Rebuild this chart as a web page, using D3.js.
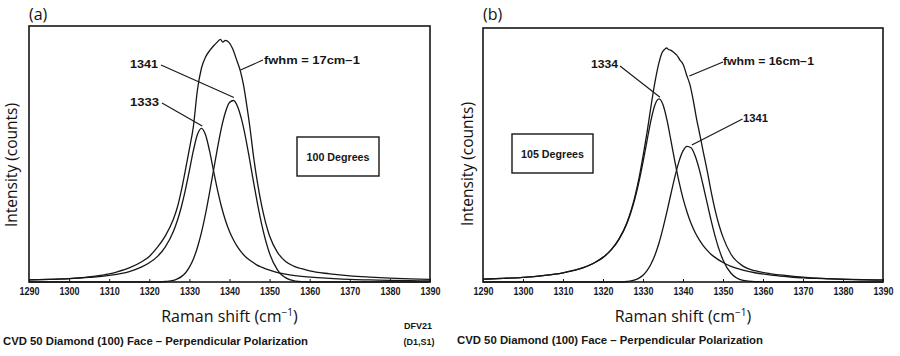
<!DOCTYPE html>
<html>
<head>
<meta charset="utf-8">
<script src="https://cdn.jsdelivr.net/npm/d3@7"></script>
<style>
  html, body { margin: 0; padding: 0; background: #ffffff; }
  svg { display: block; }
</style>
</head>
<body>
<svg id="chart" width="900" height="356"></svg>
<script>
// ---------------- DATA ----------------
const xTicks = [1290, 1300, 1310, 1320, 1330, 1340, 1350, 1360, 1370, 1380, 1390];

// sample positions (Raman shift, cm-1) for the fitted component curves
const componentShift = [1290,1295,1300,1305,1310,1315,1318,1320,1322,1324,1326,
  1327,1328,1329,1330,1331,1332,1333,1334,1335,1336,1337,1338,1339,1340,1341,1342,1343,1344,1345,1346,1347,1348,
  1350,1352,1355,1358,1362,1366,1370,1375,1380,1385,1390];

// panel (a) 100 Degrees
const a_peak1333 = [8,10,13,18,26,41,58,75,99,137,197,
  240,294,360,436,514,576,600,576,514,436,360,294,240,197,164,137,116,99,86,75,65,58,
  46,37,28,22,17,13,10,8,6,5,4];
const a_peak1341 = [0,0,0,0,0,0,0,0,0,2,6,
  12,21,35,58,90,135,193,264,347,435,523,603,664,701,709,686,636,565,480,390,304,227,
  111,46,9,1,0,0,0,0,0,0,0];
const a_totalShift = [1290,1295,1300,1303,1306,1310,1312,1315,1318,1320,1322,1324,1326,1327,1328,1329,1330,1331,1332,1333,1334,1335,1336,1337,1337.75,1338.3,1339,1339.8,1340.7,1341.9,1342.75,1343.5,1344.4,1345,1346,1347,1348,1349,1350,1352,1354,1356,1358,1360,1365,1370,1375,1380,1385,1390];
const a_total = [8,10,13,17,22,32,40,55,78,100,135,180,245,292,358,437,520,608,750,835,878,903,922,938,948,937,944,937,914,862,822,769,680,615,490,385,300,232,180,115,80,62,52,43,32,24,19,15,12,10];

// panel (b) 105 Degrees
const b_peak1334 = [11,14,18,25,36,55,76,96,124,166,229,
  273,326,391,467,550,631,691,714,691,631,550,467,391,326,273,229,194,166,143,124,108,96,
  76,61,46,36,27,21,16,13,10,8,7];
const b_peak1341 = [0,0,0,0,0,0,0,0,0,0,2,
  4,8,15,26,44,70,105,152,210,275,345,412,470,511,529,523,493,443,379,310,242,180,
  86,34,6,1,0,0,0,0,0,0,0];
const b_totalShift = [1290,1295,1300,1305,1310,1315,1318,1320,1322,1324,1326,1327,1328,1329,1330,1331,1332,1333,1334,1334.7,1335.3,1335.9,1336.4,1337,1337.6,1338.4,1339.2,1340.1,1340.9,1341.75,1342.6,1343.4,1344,1345,1346,1347,1348,1349,1350,1352,1355,1358,1362,1366,1370,1375,1380,1385,1390];
const b_total = [11,14,18,25,36,56,76,96,125,168,232,278,335,405,490,582,685,780,855,892,905,912,906,903,896,885,866,846,807,768,705,635,590,512,437,355,282,222,175,108,62,44,32,25,19,14,11,9,8];

const panelLetters = ["(a)", "(b)"];
const angleLabels = ["100 Degrees", "105 Degrees"];
const fwhmLabels = ["fwhm = 17cm\u22121", "fwhm = 16cm\u22121"];
const captionText = "CVD 50 Diamond (100) Face \u2013 Perpendicular Polarization";

// ---------------- DRAW ----------------
const svg = d3.select("#chart");
const ink = "#161616";

const panels = [
  { left: 29, right: 430, top: 26, bottom: 282, yMax: 1000,
    letter: panelLetters[0], angle: angleLabels[0],
    comps: [a_peak1333, a_peak1341], totalX: a_totalShift, totalY: a_total,
    box: [297, 137, 82, 39],
    notes: [
      { text: "1341", tx: 158, ty: 68, w: 28, from: [161, 65], to: [1341.1, 721] },
      { text: "1333", tx: 159, ty: 106, w: 29, from: [162, 103], to: [1333.2, 609] },
      { text: fwhmLabels[0], tx: 264, ty: 64, w: 96, anchor: "start", from: [263, 60], to: [1342.75, 828] }
    ],
    caption: { x: 3, y: 345, w: 305 },
    yTitle: [17, 165], xTitleY: 322
  },
  { left: 483, right: 883, top: 28, bottom: 282, yMax: 990,
    letter: panelLetters[1], angle: angleLabels[1],
    comps: [b_peak1334, b_peak1341], totalX: b_totalShift, totalY: b_total,
    box: [512, 134, 81, 39],
    notes: [
      { text: "1334", tx: 618, ty: 68, w: 27, from: [620, 66], to: [1334.25, 720] },
      { text: fwhmLabels[1], tx: 723, ty: 65, w: 91, anchor: "start", from: [723, 62], to: [1341.6, 803] },
      { text: "1341", tx: 743, ty: 122, w: 25, anchor: "start", from: [742.5, 119], to: [1342.2, 534] }
    ],
    caption: { x: 457, y: 344, w: 306 },
    yTitle: [473, 164], xTitleY: 322
  }
];

const plotFont = "'Liberation Sans', Arial, sans-serif";
const titleFont = "'Open Sans', 'Noto Sans', sans-serif";

panels.forEach((p) => {
  const x = d3.scaleLinear().domain([1290, 1390]).range([p.left, p.right]);
  const y = d3.scaleLinear().domain([0, p.yMax]).range([p.bottom, p.top]);
  const g = svg.append("g");

  const line = d3.line()
    .x(d => x(d[0]))
    .y(d => y(d[1]))
    .curve(d3.curveMonotoneX);

  // component curves
  p.comps.forEach(vals => {
    g.append("path")
      .datum(componentShift.map((s, i) => [s, vals[i]]))
      .attr("d", line)
      .attr("fill", "none")
      .attr("stroke", ink)
      .attr("stroke-width", 1.3);
  });
  // measured total
  g.append("path")
    .datum(p.totalX.map((s, i) => [s, p.totalY[i]]))
    .attr("d", line)
    .attr("fill", "none")
    .attr("stroke", ink)
    .attr("stroke-width", 1.3);

  // frame
  g.append("rect")
    .attr("x", p.left).attr("y", p.top)
    .attr("width", p.right - p.left).attr("height", p.bottom - p.top)
    .attr("fill", "none").attr("stroke", ink).attr("stroke-width", 1.6);

  // x axis
  const ax = g.append("g")
    .attr("transform", `translate(0,${p.bottom})`)
    .call(d3.axisBottom(x).tickValues(xTicks).tickFormat(d3.format("d"))
      .tickSizeInner(-3).tickSizeOuter(0).tickPadding(6));
  ax.select(".domain").remove();
  ax.selectAll(".tick line").attr("stroke", ink).attr("stroke-width", 1);
  ax.selectAll(".tick text")
    .attr("fill", ink)
    .attr("textLength", 20)
    .attr("lengthAdjust", "spacingAndGlyphs")
    .style("font-family", plotFont)
    .style("font-weight", "bold")
    .style("font-size", "10.5px");

  // panel letter
  svg.append("text")
    .attr("x", p.left).attr("y", 20)
    .style("font-family", titleFont).style("font-size", "16px")
    .attr("fill", "#111")
    .text(p.letter);

  // x title
  const xt = svg.append("text")
    .attr("x", x(1340)).attr("y", p.xTitleY)
    .attr("text-anchor", "middle")
    .style("font-family", titleFont).style("font-size", "16px")
    .attr("fill", "#111");
  xt.append("tspan").text("Raman shift (cm");
  xt.append("tspan").attr("dy", -6).style("font-size", "10px").text("\u22121");
  xt.append("tspan").attr("dy", 6).text(")");

  // y title
  svg.append("text")
    .attr("transform", `translate(${p.yTitle[0]},${p.yTitle[1]}) rotate(-90)`)
    .attr("text-anchor", "middle")
    .style("font-family", titleFont).style("font-size", "15.5px")
    .attr("fill", "#111")
    .text("Intensity (counts)");

  // angle box
  g.append("rect")
    .attr("x", p.box[0]).attr("y", p.box[1])
    .attr("width", p.box[2]).attr("height", p.box[3])
    .attr("fill", "none").attr("stroke", ink).attr("stroke-width", 1.4);
  g.append("text")
    .attr("x", p.box[0] + p.box[2] / 2).attr("y", p.box[1] + p.box[3] / 2 + 4)
    .attr("text-anchor", "middle")
    .style("font-family", plotFont).style("font-weight", "bold").style("font-size", "10px")
    .attr("textLength", 63).attr("lengthAdjust", "spacingAndGlyphs")
    .attr("fill", ink)
    .text(p.angle);

  // annotations with leader lines
  p.notes.forEach(n => {
    g.append("line")
      .attr("x1", n.from[0]).attr("y1", n.from[1])
      .attr("x2", x(n.to[0])).attr("y2", y(n.to[1]))
      .attr("stroke", ink).attr("stroke-width", 1.1);
    g.append("text")
      .attr("x", n.tx).attr("y", n.ty)
      .attr("text-anchor", n.anchor || "end")
      .style("font-family", plotFont).style("font-weight", "bold").style("font-size", "10px")
      .attr("textLength", n.w).attr("lengthAdjust", "spacingAndGlyphs")
      .attr("fill", ink)
      .text(n.text);
  });

  // caption
  svg.append("text")
    .attr("x", p.caption.x).attr("y", p.caption.y)
    .style("font-family", plotFont).style("font-weight", "bold").style("font-size", "10px")
    .attr("textLength", p.caption.w).attr("lengthAdjust", "spacingAndGlyphs")
    .attr("fill", ink)
    .text(captionText);
});

// sample id text in panel (a)
svg.append("text").attr("x", 418).attr("y", 329).attr("text-anchor", "middle")
  .style("font-family", plotFont).style("font-weight", "bold").style("font-size", "9px")
  .attr("fill", ink).text("DFV21");
svg.append("text").attr("x", 419).attr("y", 345).attr("text-anchor", "middle")
  .style("font-family", plotFont).style("font-weight", "bold").style("font-size", "9px")
  .attr("fill", ink).text("(D1,S1)");
</script>
</body>
</html>
